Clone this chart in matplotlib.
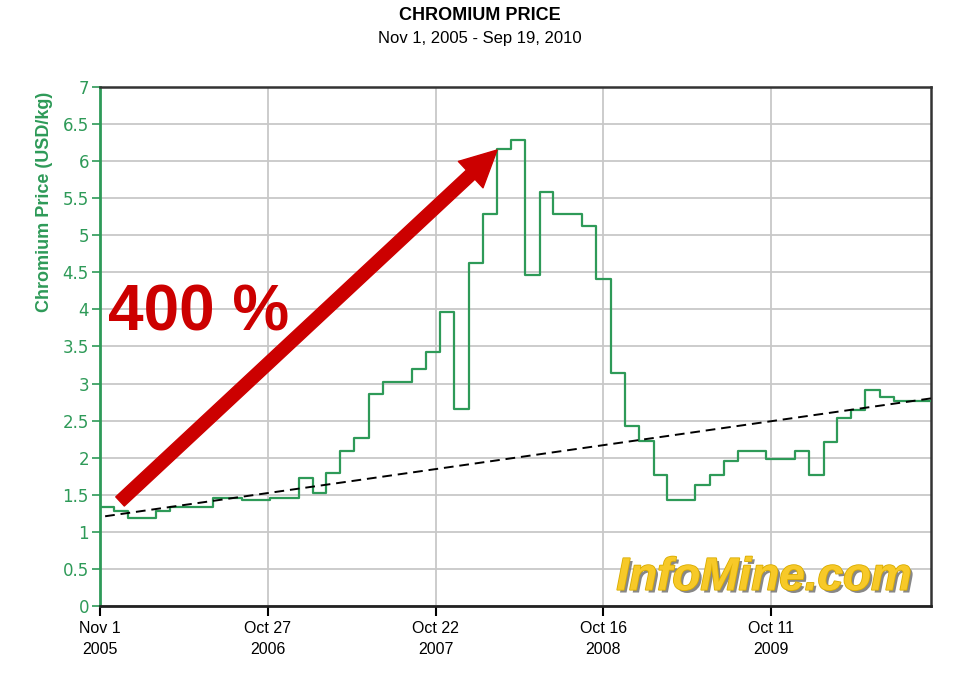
import datetime as dt

import matplotlib
matplotlib.use('Agg')
import matplotlib.pyplot as plt
import matplotlib.patheffects as pe
import pandas as pd

plt.rcParams['font.family'] = ['Liberation Sans', 'DejaVu Sans']

# monthly chromium price, USD/kg (Nov 2005 .. Aug 2010)
months = pd.date_range('2005-11-01', periods=58, freq='MS')
prices = [
    1.33, 1.28,
    1.19, 1.19, 1.28, 1.34, 1.34, 1.34, 1.46, 1.46, 1.43, 1.43, 1.46, 1.46,
    1.72, 1.53, 1.80, 2.09, 2.27, 2.86, 3.02, 3.02, 3.20, 3.42, 3.97, 2.66,
    4.62, 5.29, 6.17, 6.28, 4.46, 5.58, 5.29, 5.29, 5.13, 4.41, 3.14, 2.43,
    2.22, 1.76, 1.43, 1.43, 1.63, 1.76, 1.95, 2.09, 2.09, 1.98, 1.98, 2.09,
    1.76, 2.21, 2.53, 2.65, 2.91, 2.82, 2.76, 2.76,
]
start_date = dt.datetime(2005, 11, 1)
end_date = dt.datetime(2010, 9, 19)

# dashed trend line end points
trend_dates = [dt.datetime(2005, 11, 12), end_date]
trend_values = [1.21, 2.80]

# red arrow (tail -> tip) and annotation
arrow_tail = (dt.datetime(2005, 12, 14), 1.41)
arrow_tip = (dt.datetime(2008, 3, 2), 6.15)
label_pos = (dt.datetime(2005, 11, 18), 3.72)

tick_dates = [dt.datetime(2005, 11, 1), dt.datetime(2006, 10, 27),
              dt.datetime(2007, 10, 22), dt.datetime(2008, 10, 16),
              dt.datetime(2009, 10, 11)]
tick_labels = ['Nov 1\n2005', 'Oct 27\n2006', 'Oct 22\n2007',
               'Oct 16\n2008', 'Oct 11\n2009']
y_ticks = [0, 0.5, 1, 1.5, 2, 2.5, 3, 3.5, 4, 4.5, 5, 5.5, 6, 6.5, 7]

green = '#2e9a58'
red = '#cc0000'

fig = plt.figure(figsize=(9.69, 6.92), dpi=100)
ax = fig.add_axes([0.1032, 0.1243, 0.8576, 0.75])

x = list(months) + [end_date]
y = prices + [prices[-1]]
ax.step(x, y, where='post', color=green, lw=1.6, zorder=4)
ax.plot(trend_dates, trend_values, color='black', lw=1.4,
        dashes=(5, 3), zorder=5)

ax.set_xlim(start_date, end_date)
ax.set_ylim(0, 7)
ax.set_xticks(tick_dates)
ax.set_xticklabels(tick_labels, fontsize=11.5, linespacing=1.5)
ax.set_yticks(y_ticks)
ax.set_yticklabels([f'{v:g}' for v in y_ticks], fontsize=12,
                   color=green, family='DejaVu Sans')
ax.tick_params(axis='y', colors=green, length=6, width=1.2, pad=2)
ax.tick_params(axis='x', length=7, width=1.5, pad=4)
ax.set_ylabel('Chromium Price (USD/kg)', fontsize=13, fontweight='bold',
              color=green)
ax.yaxis.set_label_coords(-0.057, 0.778)

ax.grid(True, color='#c8c8c8', lw=1.3)
ax.set_axisbelow(True)
ax.spines['left'].set_color(green)
ax.spines['left'].set_linewidth(2)
ax.spines['bottom'].set_color('#222222')
ax.spines['bottom'].set_linewidth(2)
for s in ['top', 'right']:
    ax.spines[s].set_color('#333333')
    ax.spines[s].set_linewidth(1.8)

ax.annotate('', xy=arrow_tip, xytext=arrow_tail,
            arrowprops=dict(facecolor=red, edgecolor=red, width=9,
                            headwidth=26, headlength=26, shrink=0),
            zorder=6)
ax.text(label_pos[0], label_pos[1], '400 %', color=red, fontsize=46,
        fontweight='bold', ha='left', va='baseline', zorder=6)

ax.text(0.977, 0.012, 'InfoMine.com', transform=ax.transAxes, ha='right',
        va='bottom', fontsize=33, fontweight='bold', style='italic',
        color='#f7c928', zorder=3,
        path_effects=[pe.SimplePatchShadow(offset=(2, -2),
                                           shadow_rgbFace='#7a7a7a',
                                           alpha=0.9),
                      pe.Stroke(linewidth=1.2, foreground='#d9ac00'),
                      pe.Normal()])

fig.text(480 / 969, 1 - 15 / 692, 'CHROMIUM PRICE', ha='center',
         va='center', fontsize=13, fontweight='bold')
fig.text(480 / 969, 1 - 38 / 692, 'Nov 1, 2005 - Sep 19, 2010',
         ha='center', va='center', fontsize=12)

fig.savefig('out.png', dpi=100)
